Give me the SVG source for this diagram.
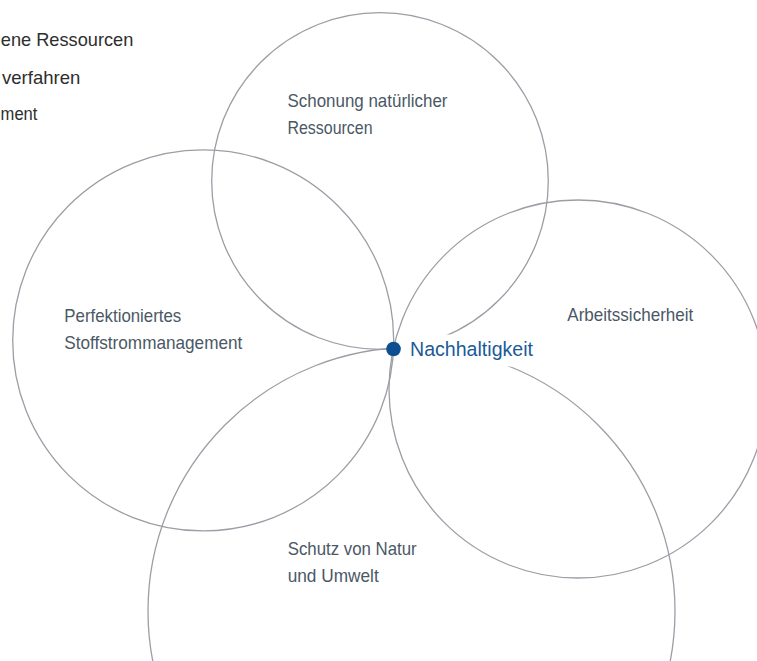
<svg xmlns="http://www.w3.org/2000/svg" width="757" height="661" viewBox="0 0 757 661">
<style>
.ring{fill:none;stroke:#9c9ea5;stroke-width:1.3}
.lbl{font-family:"Liberation Sans",Arial,sans-serif;font-size:18.5px;fill:#4a5866}
.side{font-family:"Liberation Sans",Arial,sans-serif;font-size:18.5px;fill:#2e2e2e}
.hub{font-family:"Liberation Sans",Arial,sans-serif;font-size:20.5px;fill:#1a5a98}
</style>
<rect width="757" height="661" fill="#ffffff"/>
<g id="side-text">
<text class="side" x="0.8" y="46" textLength="132.5" lengthAdjust="spacingAndGlyphs">ene Ressourcen</text>
<text class="side" x="2" y="83.5" textLength="78.3" lengthAdjust="spacingAndGlyphs">verfahren</text>
<text class="side" x="0.6" y="120" textLength="36.8" lengthAdjust="spacingAndGlyphs">ment</text>
</g>
<g id="connectors">
<circle class="ring" cx="380" cy="181" r="168.3"/>
<circle class="ring" cx="203.2" cy="340.4" r="190.5"/>
<circle class="ring" cx="578" cy="389" r="189"/>
<circle class="ring" cx="411.5" cy="611" r="263.5"/>
</g>
<g id="node-schonung">
<text class="lbl" x="287.5" y="106.5" textLength="160" lengthAdjust="spacingAndGlyphs">Schonung natürlicher</text>
<text class="lbl" x="287.5" y="133.5" textLength="85" lengthAdjust="spacingAndGlyphs">Ressourcen</text>
</g>
<g id="node-stoffstrom">
<text class="lbl" x="64.3" y="321.7" textLength="117" lengthAdjust="spacingAndGlyphs">Perfektioniertes</text>
<text class="lbl" x="64.3" y="349" textLength="178" lengthAdjust="spacingAndGlyphs">Stoffstrommanagement</text>
</g>
<g id="node-arbeit">
<text class="lbl" x="567.3" y="320.7" textLength="126" lengthAdjust="spacingAndGlyphs">Arbeitssicherheit</text>
</g>
<g id="node-schutz">
<text class="lbl" x="287.7" y="555" textLength="129" lengthAdjust="spacingAndGlyphs">Schutz von Natur</text>
<text class="lbl" x="287.7" y="581.7" textLength="91" lengthAdjust="spacingAndGlyphs">und Umwelt</text>
</g>
<g id="node-nachhaltigkeit">
<rect x="401" y="334.5" width="141" height="32" fill="#ffffff"/>
<circle cx="393.5" cy="349" r="7.3" fill="#0d4f8f"/>
<text class="hub" x="410" y="356" textLength="123" lengthAdjust="spacingAndGlyphs">Nachhaltigkeit</text>
</g>
</svg>
